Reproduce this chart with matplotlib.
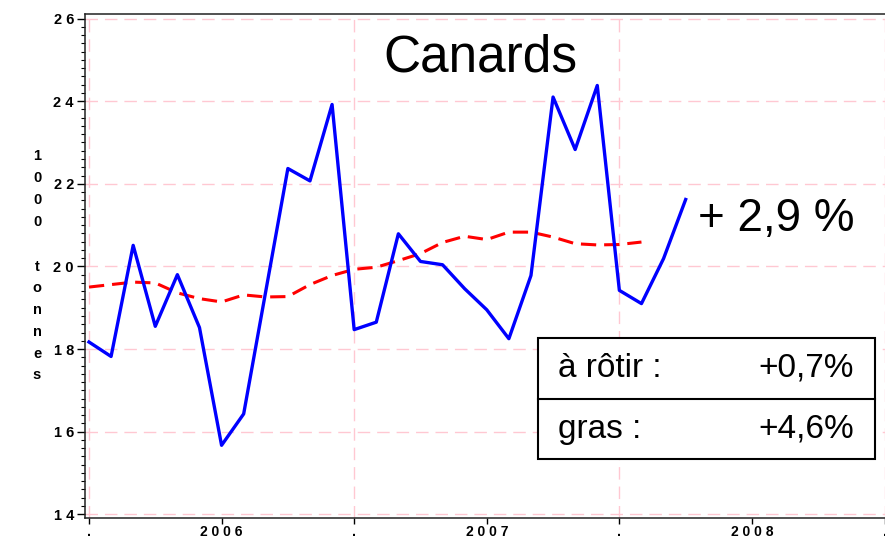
import numpy as np
import matplotlib
matplotlib.use("Agg")
import matplotlib.pyplot as plt
from matplotlib.ticker import MultipleLocator, FixedLocator, FixedFormatter
from matplotlib.patches import Rectangle

plt.rcParams['font.family'] = ['Liberation Sans', 'DejaVu Sans']

# monthly tonnage (1000 t), Jan 2006 onwards
monthly = [18.17, 17.82, 20.51, 18.55, 19.80, 18.52, 15.67, 16.43, 19.40, 22.37,
           22.07, 23.92, 18.47, 18.65, 20.79, 20.12, 20.04, 19.46, 18.95, 18.25,
           19.78, 24.10, 22.83, 24.38, 19.42, 19.10, 20.19, 21.62]
# 12-month moving average
trend = [19.50, 19.56, 19.62, 19.60, 19.36, 19.22, 19.14, 19.31, 19.26, 19.27,
         19.56, 19.78, 19.93, 19.98, 20.14, 20.31, 20.58, 20.73, 20.65, 20.83,
         20.83, 20.71, 20.55, 20.52, 20.53, 20.59]
years = ["2 0 0 6", "2 0 0 7", "2 0 0 8"]
yticks = [14, 16, 18, 20, 22, 24, 26]
title = "Canards"
change = "+ 2,9 %"
table_rows = [("à rôtir :", "+0,7%"), ("gras :", "+4,6%")]

fig = plt.figure(figsize=(8.85, 5.42), dpi=100)
ax = fig.add_axes([85 / 885, 1 - 518 / 542, 1 - 85 / 885, 504 / 542])

grid_col = '#ffc8d2'
x_m = np.arange(len(monthly))
x_t = np.arange(len(trend))

ax.plot(x_t, trend, color='red', lw=2.2, dashes=(5, 2.6), zorder=3)
ax.plot(x_m, monthly, color='blue', lw=2.4, zorder=4)

ax.set_xlim(-0.18, 36.02)
ax.set_ylim(13.91, 26.11)

# x axis: year boundaries as major (".") and mid-year as minor (year label)
bounds = [12 * i for i in range(len(years) + 1)]
mids = [12 * i + 6 for i in range(len(years))]
ax.xaxis.set_major_locator(FixedLocator(bounds))
ax.xaxis.set_major_formatter(FixedFormatter(["."] * len(bounds)))
ax.xaxis.set_minor_locator(FixedLocator(mids))
ax.xaxis.set_minor_formatter(FixedFormatter(years))
ax.tick_params(axis='x', which='both', direction='out', length=4, width=1,
               pad=1, labelsize=10)
for lab in ax.get_xticklabels(which='both'):
    lab.set_fontweight('bold')

ax.yaxis.set_major_locator(FixedLocator(yticks))
ax.yaxis.set_major_formatter(FixedFormatter([" ".join(str(v)) for v in yticks]))
ax.yaxis.set_minor_locator(MultipleLocator(0.2))
ax.tick_params(axis='y', which='major', direction='out', length=6, width=1,
               pad=2, labelsize=10.5)
ax.tick_params(axis='y', which='minor', direction='out', length=3, width=0.8)
for lab in ax.get_yticklabels():
    lab.set_fontweight('bold')

ax.grid(True, which='major', axis='both', color=grid_col, lw=1, dashes=(9, 5))
ax.set_axisbelow(True)

for s in ['left', 'bottom', 'top']:
    ax.spines[s].set_linewidth(1.1)
    ax.spines[s].set_color('#222222')
ax.spines['right'].set_visible(False)

# vertical stacked axis label
fig.text(37 / 885, 1 - 189 / 542, "1\n0\n0\n0", ha='center', va='center',
         fontsize=10.5, fontweight='bold', linespacing=1.7)
fig.text(37 / 885, 1 - 321 / 542, "t\no\nn\nn\ne\ns", ha='center', va='center',
         fontsize=10.5, fontweight='bold', linespacing=1.7)

fig.text(480 / 885, 1 - 58 / 542, title, ha='center', va='center', fontsize=37)
fig.text(776 / 885, 1 - 219 / 542, change, ha='center', va='center', fontsize=33)

# summary table
x0, x1 = 537.7, 875
ytop, ymid, ybot = 337.7, 399, 459.3
tr = fig.transFigure
fig.add_artist(Rectangle((x0 / 885, 1 - ybot / 542), (x1 - x0) / 885,
                         (ybot - ytop) / 542, transform=tr, facecolor='white',
                         edgecolor='black', lw=1.5, zorder=5))
fig.add_artist(plt.Line2D([x0 / 885, x1 / 885], [1 - ymid / 542] * 2,
                          transform=tr, color='black', lw=1.5, zorder=6))
row_y = [(ytop + ymid) / 2, (ymid + ybot) / 2]
for (lbl, val), yy in zip(table_rows, row_y):
    fig.text(558 / 885, 1 - yy / 542, lbl, ha='left', va='center',
             fontsize=24, zorder=7)
    fig.text(854 / 885, 1 - yy / 542, val, ha='right', va='center',
             fontsize=24, zorder=7)

fig.savefig("out.png", dpi=100)
